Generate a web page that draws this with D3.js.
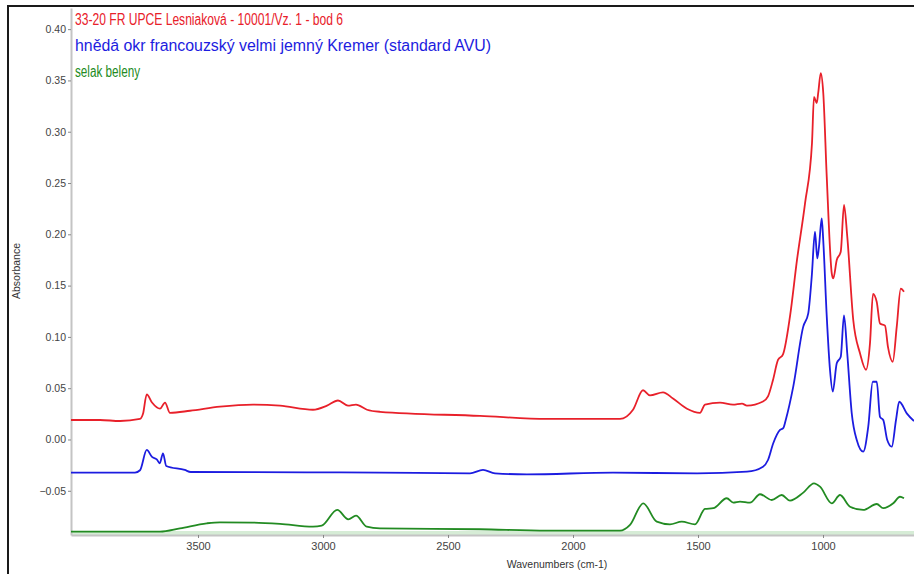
<!DOCTYPE html>
<html><head><meta charset="utf-8">
<script src="https://cdn.jsdelivr.net/npm/d3@7"></script>
<style>
html,body{margin:0;padding:0;background:#fff;}
svg{display:block;}
text{font-family:"Liberation Sans",Arial,sans-serif;}
</style></head>
<body><svg id="chart" width="914" height="574"></svg>
<script>
// ---- data (wavenumber cm-1, absorbance) ----
const redWn  = [4008,3892,3812,3732,3720,3705,3684,3652,3632,3612,3532,3412,3280,3172,3040,2984,2940,2900,2868,2824,2772,2372,2104,1840,1812,1760,1720,1692,1640,1600,1544,1492,1472,1412,1360,1324,1304,1240,1220,1200,1180,1160,1132,1104,1072,1044,1036,1025,1019,1009,999,985,965,959,945,929,916,903,879,852,828,812,800,785,772,752,740,721,705,689,676];
const redAbs = [0.019,0.019,0.018,0.020,0.025,0.044,0.036,0.030,0.036,0.026,0.028,0.032,0.034,0.033,0.029,0.033,0.038,0.033,0.034,0.029,0.027,0.023,0.020,0.020,0.020,0.029,0.048,0.043,0.046,0.040,0.030,0.026,0.034,0.036,0.034,0.035,0.033,0.037,0.042,0.058,0.0775,0.083,0.120,0.175,0.230,0.289,0.334,0.328,0.338,0.357,0.338,0.256,0.162,0.157,0.175,0.183,0.2286,0.198,0.1165,0.084,0.068,0.094,0.142,0.134,0.113,0.111,0.090,0.0758,0.110,0.147,0.144];

const blueWn  = [4008,3752,3732,3705,3684,3665,3653,3640,3627,3553,3529,3065,2772,2412,2360,2312,2184,1840,1504,1304,1240,1220,1199,1172,1159,1148,1119,1079,1059,1045,1032,1023,1016,1005,999,985,972,961,945,929,916,903,885,865,839,819,801,785,772,759,743,725,708,695,665,636];
const blueAbs = [-0.0323,-0.0323,-0.030,-0.0102,-0.017,-0.0193,-0.0232,-0.0135,-0.0258,-0.0297,-0.0317,-0.032,-0.0323,-0.033,-0.0297,-0.033,-0.034,-0.0323,-0.033,-0.0314,-0.0265,-0.020,-0.0037,0.0093,0.011,0.020,0.0515,0.110,0.123,0.159,0.2025,0.1766,0.188,0.2156,0.194,0.120,0.0677,0.0466,0.0743,0.0807,0.121,0.084,0.0255,-0.0005,-0.0119,0.0125,0.0563,0.0563,0.022,0.019,-0.0005,-0.007,0.019,0.0368,0.0255,0.018];

const greenWn  = [4008,3652,3572,3465,3412,3280,3172,3040,3005,2943,2899,2868,2825,2772,2372,2104,1812,1772,1719,1665,1612,1565,1512,1472,1439,1385,1359,1332,1292,1252,1205,1165,1132,1079,1036,1012,965,932,892,839,785,759,719,692,676];
const greenAbs = [-0.0898,-0.0898,-0.0866,-0.0817,-0.0807,-0.081,-0.0823,-0.085,-0.084,-0.0687,-0.0778,-0.0743,-0.085,-0.0866,-0.0875,-0.0889,-0.0889,-0.0833,-0.0622,-0.0801,-0.0827,-0.0801,-0.0827,-0.0677,-0.067,-0.0573,-0.0616,-0.0606,-0.0616,-0.0534,-0.059,-0.0541,-0.0596,-0.0518,-0.0427,-0.046,-0.0622,-0.0541,-0.0655,-0.0687,-0.0629,-0.067,-0.0622,-0.0558,-0.0573];

const seriesNames  = ["33-20 FR UPCE Lesniaková - 10001/Vz. 1 - bod 6","hnědá okr francouzský velmi jemný Kremer (standard AVU)","selak beleny"];
const seriesColors = ["#e8202a","#1c1ce0","#228b22"];
const yTicks = [-0.05,0,0.05,0.10,0.15,0.20,0.25,0.30,0.35,0.40];
const xTicks = [3500,3000,2500,2000,1500,1000];
const xTitle = "Wavenumbers (cm-1)";
const yTitle = "Absorbance";

// ---- drawing ----
const svg = d3.select("#chart");
const L=71, T=8, R=916, B=535;
const x = d3.scaleLinear().domain([4008,628]).range([L,R]);
const y = d3.scaleLinear().domain([-0.0931,0.4206]).range([B,T]);

// outer frame
svg.append("rect").attr("x",8).attr("y",6).attr("width",1000).attr("height",1000)
  .attr("fill","none").attr("stroke","#1a1a1a").attr("stroke-width",2);

svg.append("defs").append("clipPath").attr("id","clip")
  .append("rect").attr("x",L).attr("y",T).attr("width",R-L).attr("height",B-T);

// light green band along bottom
svg.append("rect").attr("x",L+1).attr("y",B-4).attr("width",R-L).attr("height",4).attr("fill","#d6ecd6");

// axes
const yAxis = svg.append("g").attr("transform",`translate(${L},0)`)
  .call(d3.axisLeft(y).tickValues(yTicks).tickFormat(d3.format(".2f")).tickSize(3).tickSizeOuter(0));
const xAxis = svg.append("g").attr("transform",`translate(0,${B})`)
  .call(d3.axisBottom(x).tickValues(xTicks).tickFormat(d3.format("d")).tickSize(3).tickSizeOuter(0));
[yAxis,xAxis].forEach(g=>{
  g.select(".domain").attr("stroke","#c4c4c4").attr("stroke-width",2);
  g.selectAll(".tick line").attr("stroke","#888");
  g.selectAll(".tick text").attr("fill","#444").attr("font-size",10.5)
   .attr("font-family","'Liberation Sans',Arial,sans-serif");
});
yAxis.selectAll(".tick text").attr("x",-5);
xAxis.selectAll(".tick text").attr("y",7).attr("font-family","'Liberation Sans Narrow','Liberation Sans',Arial,sans-serif").attr("font-size",11);

svg.append("text").attr("x",557).attr("y",568).attr("text-anchor","middle")
  .attr("font-size",10.5).attr("fill","#333").text(xTitle);
svg.append("text").attr("transform","translate(20,271) rotate(-90)").attr("text-anchor","middle")
  .attr("font-size",10.5).attr("fill","#333").text(yTitle);

// lines
const line = d3.line().x(d=>x(d[0])).y(d=>y(d[1])).curve(d3.curveMonotoneX);
const data = [d3.zip(redWn,redAbs), d3.zip(blueWn,blueAbs), d3.zip(greenWn,greenAbs)];
const gl = svg.append("g").attr("clip-path","url(#clip)");
data.forEach((s,i)=>{
  gl.append("path").datum(s).attr("d",line).attr("fill","none")
    .attr("stroke",seriesColors[i]).attr("stroke-width",1.8).attr("stroke-linejoin","round");
});

// legend texts
const legY=[25,51,77], legW=[268,416,65];
seriesNames.forEach((n,i)=>{
  svg.append("text").attr("x",75).attr("y",legY[i]).attr("fill",seriesColors[i])
    .attr("font-size",16).attr("textLength",legW[i]).attr("lengthAdjust","spacingAndGlyphs").text(n);
});
</script></body></html>
